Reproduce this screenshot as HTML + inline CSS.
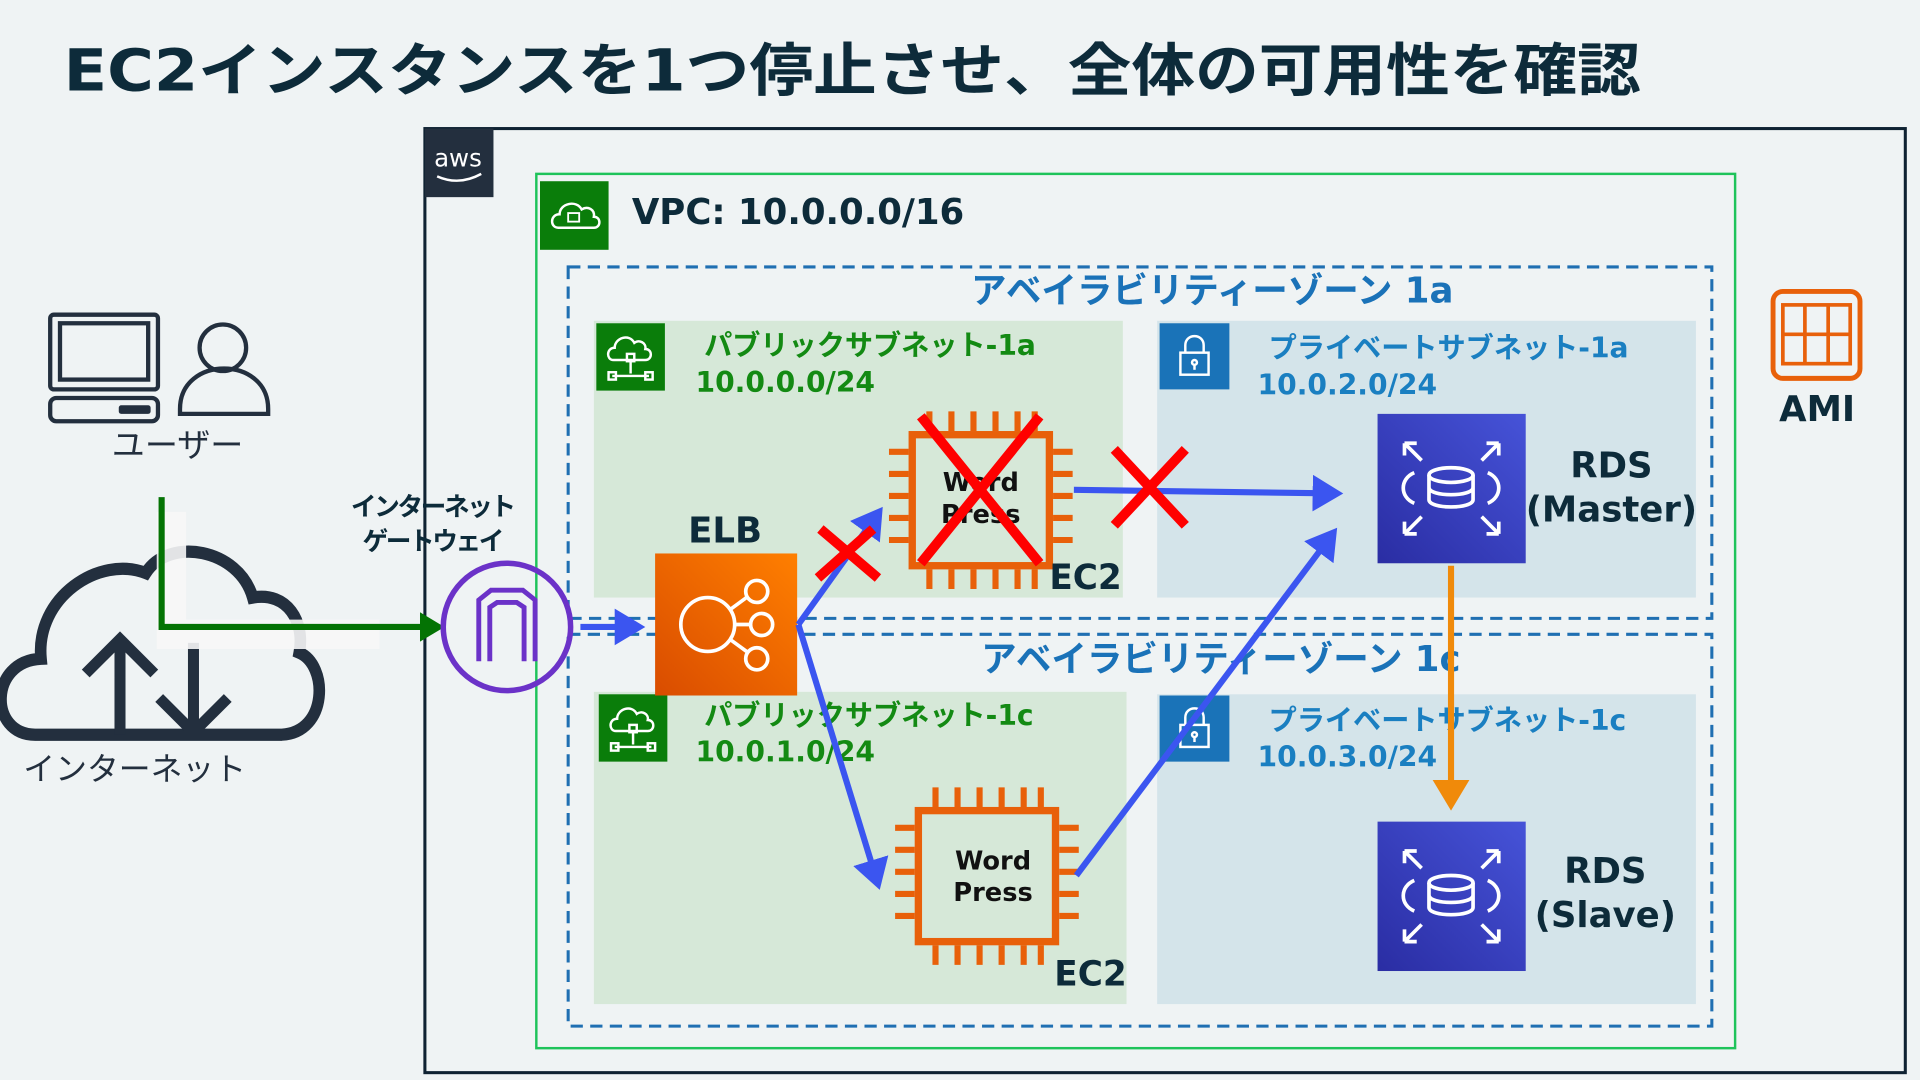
<!DOCTYPE html>
<html><head><meta charset="utf-8"><style>html,body{margin:0;padding:0;background:#eff3f4}svg{display:block}text{font-family:"DejaVu Sans","Liberation Sans","Noto Sans CJK JP",sans-serif}</style></head><body>
<svg width="1920" height="1080" viewBox="0 0 1568 882" xmlns="http://www.w3.org/2000/svg">
<defs>
<linearGradient id="og" x1="0" y1="1" x2="1" y2="0"><stop offset="0" stop-color="#d94c00"/><stop offset="1" stop-color="#ff7f00"/></linearGradient>
<linearGradient id="bg" x1="0" y1="1" x2="1" y2="0"><stop offset="0" stop-color="#2a2da3"/><stop offset="1" stop-color="#4653d8"/></linearGradient>
<marker id="ab" markerWidth="6" markerHeight="6" refX="4" refY="3" orient="auto" markerUnits="strokeWidth"><path d="M0,0 L5,3 L0,6z" fill="#3b55f0"/></marker>
<marker id="ao" markerWidth="6" markerHeight="6" refX="4" refY="3" orient="auto" markerUnits="strokeWidth"><path d="M0,0 L5,3 L0,6z" fill="#f08a0a"/></marker>
<g id="chip"><rect x="0" y="0" width="112" height="107" fill="none" stroke="#e8600a" stroke-width="6"/>
<g stroke="#e8600a" stroke-width="5">
<path d="M14,-3v-16M32,-3v-16M50,-3v-16M68,-3v-16M86,-3v-16M100,-3v-16"/>
<path d="M14,110v16M32,110v16M50,110v16M68,110v16M86,110v16M100,110v16"/>
<path d="M-3,14h-16M-3,32h-16M-3,50h-16M-3,68h-16M-3,86h-16"/>
<path d="M115,14h16M115,32h16M115,50h16M115,68h16M115,86h16"/></g></g>
<g id="rds"><rect width="121" height="122" fill="url(#bg)"/>
<g fill="none" stroke="#fff" stroke-width="3">
<ellipse cx="60" cy="50" rx="18" ry="6"/><path d="M42,50v20c0,8 36,8 36,0v-20M42,60c0,8 36,8 36,0"/>
<path d="M30,48c-12,5-12,20 0,25M90,48c12,5 12,20 0,25"/>
<path d="M22,24l14,14M22,24h10M22,24v10M99,24l-14,14M99,24h-10M99,24v10M22,98l14-14M22,98h10M22,98v-10M99,98l-14-14M99,98h-10M99,98v-10"/></g></g>
<g id="pub"><rect width="56" height="55" fill="#0a7d0a"/><g fill="none" stroke="#fff" stroke-width="2"><path d="M14,30c-6,0-6-10 1-10c0-8 12-12 16-4c4-3 10 0 9 5c6 0 6 9 0 9z"/><rect x="25" y="25" width="6" height="6"/><path d="M28,31v10M13,43h30"/><rect x="10" y="40" width="6" height="6"/><rect x="40" y="40" width="6" height="6"/></g></g>
<g id="priv"><rect width="57" height="54" fill="#1a73b8"/><g fill="none" stroke="#fff" stroke-width="2"><rect x="17" y="24" width="23" height="18"/><path d="M21,24v-6c0-10 15-10 15 0v6"/><circle cx="28.5" cy="32" r="2"/><path d="M28.5,34v4"/></g></g>
</defs>
<rect width="1568" height="882" fill="#eff3f4"/>
<text x="52" y="74" font-size="47" font-weight="bold" fill="#0d2b3a" textLength="1288" lengthAdjust="spacingAndGlyphs">EC2インスタンスを1つ停止させ、全体の可用性を確認</text>
<!-- AWS cloud -->
<rect x="347" y="105" width="1209" height="771" fill="none" stroke="#0f2232" stroke-width="2.5"/>
<rect x="347" y="105" width="56" height="56" fill="#232f3e"/>
<text x="374" y="136" font-size="20" fill="#fff" text-anchor="middle" font-family="Liberation Sans,sans-serif">aws</text>
<path d="M357,144q18,8 36,-2" stroke="#fff" stroke-width="2" fill="none"/>
<!-- VPC -->
<rect x="438" y="142" width="979" height="714" fill="none" stroke="#1ec35a" stroke-width="2"/>
<rect x="441" y="148" width="56" height="56" fill="#0a7d0a"/>
<path d="M456,186c-7,0-7-11 1-11c0-9 14-12 18-4c5-3 11 0 10 6c6 0 6 9 0 9z" fill="none" stroke="#fff" stroke-width="2"/>
<rect x="464" y="174" width="9" height="7" fill="none" stroke="#fff" stroke-width="1.5"/>
<text x="516" y="183" font-size="29" font-weight="bold" fill="#0d2b3a">VPC: 10.0.0.0/16</text>
<!-- subnets -->
<rect x="485" y="262" width="432" height="226" fill="#d6e8d8"/>
<rect x="945" y="262" width="440" height="226" fill="#d4e4ea"/>
<rect x="485" y="565" width="435" height="255" fill="#d6e8d8"/>
<rect x="945" y="567" width="440" height="253" fill="#d4e4ea"/>
<use href="#pub" x="487" y="264"/><use href="#pub" x="489" y="567"/>
<use href="#priv" x="947" y="264"/><use href="#priv" x="947" y="568"/>
<!-- AZ -->
<rect x="464" y="218" width="934" height="287" fill="none" stroke="#1f6fb2" stroke-width="2.5" stroke-dasharray="10,6"/>
<rect x="464" y="518" width="934" height="320" fill="none" stroke="#1f6fb2" stroke-width="2.5" stroke-dasharray="10,6"/>
<text x="990" y="247" font-size="29" font-weight="bold" fill="#1a72b8" text-anchor="middle">アベイラビリティーゾーン 1a</text>
<text x="997" y="548" font-size="29" font-weight="bold" fill="#1a72b8" text-anchor="middle">アベイラビリティーゾーン 1c</text>
<g font-size="23" font-weight="bold" fill="#138a13">
<text x="575" y="290">パブリックサブネット-1a</text><text x="568" y="320">10.0.0.0/24</text>
<text x="575" y="592">パブリックサブネット-1c</text><text x="568" y="622">10.0.1.0/24</text></g>
<g font-size="23" font-weight="bold" fill="#1a7fc1">
<text x="1036" y="292">プライベートサブネット-1a</text><text x="1027" y="322">10.0.2.0/24</text>
<text x="1036" y="596">プライベートサブネット-1c</text><text x="1027" y="626">10.0.3.0/24</text></g>
<!-- user -->
<g fill="none" stroke="#232f3e" stroke-width="3.5">
<rect x="41" y="257" width="88" height="61" rx="3"/><rect x="49" y="264" width="72" height="46"/>
<rect x="41" y="325" width="88" height="19" rx="5"/>
<circle cx="182" cy="284" r="19"/><path d="M147,338v-4c0-44 72-44 72,0v4z"/></g>
<rect x="97" y="331" width="26" height="7" rx="2" fill="#232f3e"/>
<text x="145" y="373" font-size="27" fill="#232f3e" text-anchor="middle">ユーザー</text>
<!-- internet cloud -->
<path d="M45,600c-40,0-40-60 5-62c-5-50 50-85 90-70c20-30 80-20 92,20c30-5 45 20 40 45c25 10 25 65-15 67z" fill="none" stroke="#232f3e" stroke-width="10" transform="translate(-14,0) scale(0.95,1)"/>
<path d="M98,600v-75M70,550l28-28l28,28M158,525v72M130,570l28,28l28-28" fill="none" stroke="#232f3e" stroke-width="9"/>
<text x="110" y="637" font-size="26" fill="#232f3e" text-anchor="middle">インターネット</text>
<!-- green arrow -->
<path d="M140,418v100h170" fill="none" stroke="#f7f7f7" stroke-width="24" opacity="0.9"/>
<path d="M132,406v106h218" fill="none" stroke="#047304" stroke-width="5"/>
<path d="M343,500l20,12l-20,12z" fill="#047304"/>
<!-- IGW -->
<text x="353" y="421" font-size="21" font-weight="bold" fill="#0d2b3a" text-anchor="middle" letter-spacing="-2">インターネット</text>
<text x="353" y="449" font-size="21" font-weight="bold" fill="#0d2b3a" text-anchor="middle" letter-spacing="-2">ゲートウェイ</text>
<circle cx="414" cy="512" r="52" fill="none" stroke="#6b32c8" stroke-width="4.5"/>
<path d="M391,540v-50l10-8h26l10,8v50M400,540v-44l6-4h16l6,4v44" fill="none" stroke="#6b32c8" stroke-width="4"/>
<!-- ELB -->
<text x="562" y="443" font-size="29" font-weight="bold" fill="#0d2b3a">ELB</text>
<rect x="535" y="452" width="116" height="116" fill="url(#og)"/>
<g fill="none" stroke="#fff" stroke-width="3"><circle cx="578" cy="510" r="22"/><circle cx="618" cy="483" r="9"/><circle cx="622" cy="510" r="9"/><circle cx="618" cy="538" r="9"/><path d="M600,510h13M596,498l15-11M596,522l15,11"/></g>
<!-- EC2 -->
<use href="#chip" x="745" y="355"/>
<text x="801" y="401" font-size="21" font-weight="bold" fill="#111" text-anchor="middle">Word</text>
<text x="801" y="427" font-size="21" font-weight="bold" fill="#111" text-anchor="middle">Press</text>
<text x="857" y="481" font-size="28" font-weight="bold" fill="#0d2b3a">EC2</text>
<use href="#chip" x="750" y="662"/>
<text x="811" y="710" font-size="21" font-weight="bold" fill="#111" text-anchor="middle">Word</text>
<text x="811" y="736" font-size="21" font-weight="bold" fill="#111" text-anchor="middle">Press</text>
<text x="861" y="805" font-size="28" font-weight="bold" fill="#0d2b3a">EC2</text>
<!-- RDS -->
<use href="#rds" x="1125" y="338"/><use href="#rds" x="1125" y="671"/>
<g font-size="29" font-weight="bold" fill="#0d2b3a" text-anchor="middle">
<text x="1316" y="390">RDS</text><text x="1316" y="426">(Master)</text>
<text x="1311" y="721">RDS</text><text x="1311" y="757">(Slave)</text>
<text x="1484" y="344">AMI</text></g>
<!-- AMI -->
<rect x="1448" y="238" width="71" height="71" rx="8" fill="none" stroke="#e8600a" stroke-width="4"/>
<g fill="none" stroke="#e8600a" stroke-width="3"><rect x="1456" y="249" width="55" height="48"/><path d="M1456,273h55M1474,249v48M1493,249v48"/></g>
<!-- arrows -->
<g fill="none" stroke="#3b55f0" stroke-width="5">
<path d="M474,512h48" marker-end="url(#ab)"/>
<path d="M652,510l66,-92" marker-end="url(#ab)"/>
<path d="M652,510l65,212" marker-end="url(#ab)"/>
<path d="M877,400l215,3" marker-end="url(#ab)"/>
<path d="M879,715l210,-280" marker-end="url(#ab)"/>
</g>
<path d="M1185,462v195" stroke="#f08a0a" stroke-width="5" fill="none" marker-end="url(#ao)"/>
<!-- red X -->
<g stroke="#f00" stroke-width="8">
<path d="M670,432l47,40M713,432l-45,40"/>
<path d="M752,340l97,120M849,340l-97,120"/>
<path d="M910,367l58,62M968,367l-58,62"/></g>
</svg>
</body></html>
